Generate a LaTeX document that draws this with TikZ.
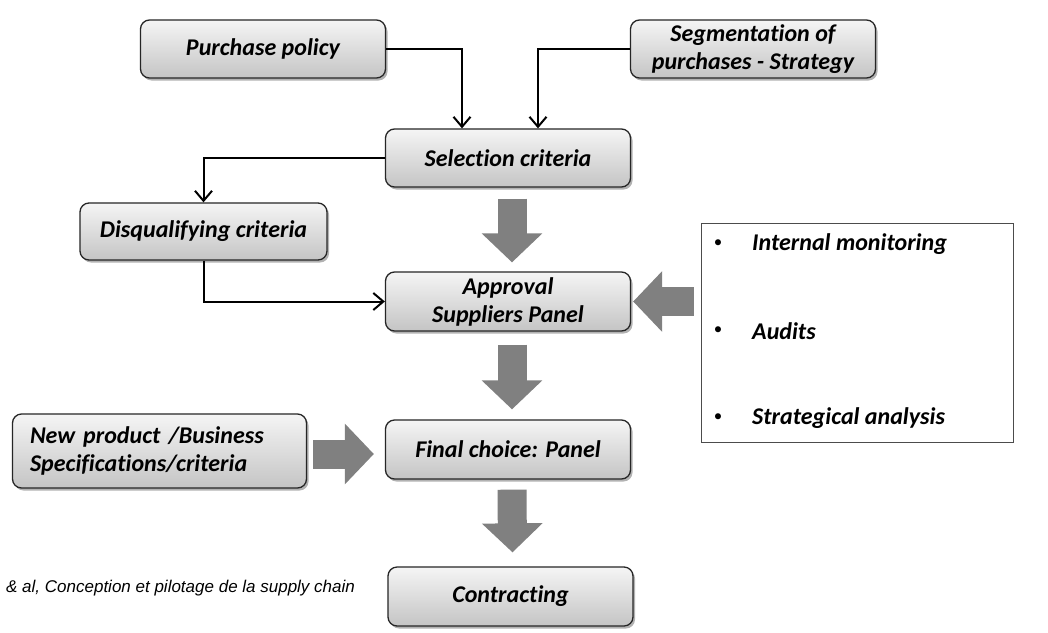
\documentclass[tikz,border=0pt]{standalone}
\usepackage{fontspec}
\setmainfont{Carlito}[Ligatures=NoCommon]
\newfontfamily\arialfont{Liberation Sans}
\usetikzlibrary{shadows,arrows.meta,calc}
\definecolor{arrowgray}{HTML}{808080}
\tikzset{
  box/.style={draw=black!85, line width=1.3pt, rounded corners=9pt,
    top color=white!96!black, bottom color=white!77!black,
    drop shadow={shadow xshift=2pt,shadow yshift=-2.5pt,opacity=0.3,fill=black},
    font=\fontsize{24}{28}\selectfont\bfseries\itshape, align=center,
    minimum width=245pt, minimum height=58pt, inner sep=0pt},
  conn/.style={line width=2pt, -{Straight Barb[length=10pt,width=17pt,line width=2pt]}},
  blockarrow/.style={arrowgray, line width=29pt, -{Triangle[length=29pt,width=59pt]}},
  itemtxt/.style={anchor=west, inner sep=0pt, font=\fontsize{24}{28}\selectfont\bfseries\itshape},
  bullet/.style={inner sep=0pt, font=\fontsize{17}{18}\selectfont},
}
\begin{document}
\begin{tikzpicture}[x=1pt,y=-1pt]
\fill[white] (0,0) rectangle (1048,632);
\useasboundingbox (0,0) rectangle (1048,632);

\node[box] (pp) at (263,49) {Purchase policy};
\node[box] (seg) at (753,49) {Segmentation of\\purchases - Strategy};
\node[box] (sel) at (508,158) {Selection criteria};
\node[box, minimum width=247pt, minimum height=57pt] (dis) at (203.5,231.5) {Disqualifying criteria};
\node[box, minimum height=59pt] (appr) at (508,301.5) {Approval\\Suppliers Panel};
\node[box, minimum height=59pt] (fin) at (508,449.5) {Final choice: Panel};
\node[box, minimum width=294pt, minimum height=74pt, align=left, text width=259pt] (np) at (159.5,451) {New product /Business\\Specifications/criteria};
\node[box, minimum height=59pt] (con) at (510.5,596.5) {Contracting};

\node[draw=black!70, line width=0.9pt, minimum width=312pt, minimum height=219pt, inner sep=0pt] (mon) at (857,332.5) {};
\node[bullet] (b1) at (718,244) {•};
\node[itemtxt] (t1) at (752,244) {Internal monitoring};
\node[bullet] (b2) at (718,331) {•};
\node[itemtxt] (t2) at (752,331) {Audits};
\node[bullet] (b3) at (718,418) {•};
\node[itemtxt] (t3) at (752,418) {Strategical analysis};

\node[anchor=west, inner sep=0pt, font=\arialfont\itshape\fontsize{17}{20}\selectfont] (src) at (6,588) {\& al, Conception et pilotage de la supply chain};

\draw[conn] (pp.east) -| ([xshift=-46pt]sel.north);
\draw[conn] (seg.west) -| ([xshift=30pt]sel.north);
\draw[conn] (sel.west) -| (dis.north);
\draw[conn] (dis.south) |- (appr.west);

\draw[blockarrow] ($(sel.south)+(4,11)$) -- ($(appr.north)+(4,-9)$);
\draw[blockarrow] ($(appr.south)+(4,13)$) -- ($(fin.north)+(4,-10)$);
\draw[blockarrow] ($(fin.south)+(4,10)$) -- ($(con.north)+(2,-14)$);
\draw[blockarrow] ($(mon.west |- appr.east)+(-7,0)$) -- ($(appr.east)+(2,0)$);
\coordinate (npa) at ($(np.east)+(6,3)$);
\coordinate (npb) at ($(npa -| fin.west)+(-11,0)$);
\draw[blockarrow] (npa) -- (npb);
\end{tikzpicture}
\end{document}
